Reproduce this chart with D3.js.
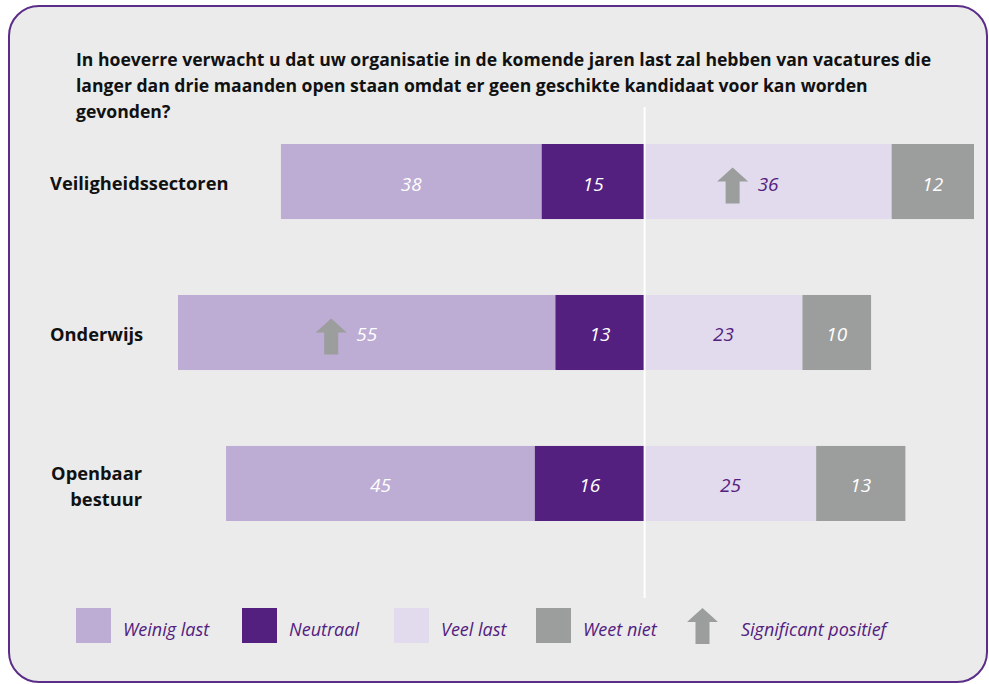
<!DOCTYPE html>
<html>
<head>
<meta charset="utf-8">
<script src="https://cdn.jsdelivr.net/npm/d3@7"></script>
<style>
  body { margin: 0; background: #fff; }
  svg text { font-family: "Open Sans", sans-serif; }
</style>
</head>
<body>
<svg id="chart" width="989" height="684"></svg>
<script>
// data (percentages)
var categories = ["Veiligheidssectoren", "Onderwijs", "Openbaar bestuur"];
var weinigLast = [38, 55, 45];
var neutraal = [15, 13, 16];
var veelLast = [36, 23, 25];
var weetNiet = [12, 10, 13];
// which segment carries the "significant positief" arrow, per category
var significant = ["Veel last", "Weinig last", null];
var legendLabels = ["Weinig last", "Neutraal", "Veel last", "Weet niet", "Significant positief"];
var titleLines = [
  "In hoeverre verwacht u dat uw organisatie in de komende jaren last zal hebben van vacatures die",
  "langer dan drie maanden open staan omdat er geen geschikte kandidaat voor kan worden",
  "gevonden?"
];

var purple = "#53207f";
var colors = {
  "Weinig last": "#bdacd4",
  "Neutraal": "#53207f",
  "Veel last": "#e2daed",
  "Weet niet": "#9c9e9d"
};
var textColors = {
  "Weinig last": "#ffffff",
  "Neutraal": "#ffffff",
  "Veel last": purple,
  "Weet niet": "#ffffff"
};

var svg = d3.select("#chart");

// frame
svg.append("rect")
  .attr("x", 9).attr("y", 6)
  .attr("width", 978).attr("height", 676)
  .attr("rx", 30).attr("ry", 30)
  .attr("fill", "#ebebeb")
  .attr("stroke", "#5b2c88")
  .attr("stroke-width", 2);

// title
svg.append("text")
  .attr("x", 76).attr("y", 66)
  .attr("font-size", 17.6).attr("font-weight", "bold").attr("fill", "#111")
  .selectAll("tspan")
  .data(titleLines)
  .enter().append("tspan")
  .attr("x", 76)
  .attr("dy", function(d, i) { return i == 0 ? 0 : 26; })
  .text(function(d) { return d; });

// build segments
var rows = categories.map(function(c, i) {
  var n = neutraal[i], w = weinigLast[i], v = veelLast[i], wn = weetNiet[i];
  return {
    cat: c,
    segs: [
      { key: "Weinig last", x0: -(n + w), x1: -n, val: w },
      { key: "Neutraal", x0: -n, x1: 0, val: n },
      { key: "Veel last", x0: 0, x1: v, val: v },
      { key: "Weet niet", x0: v, x1: v + wn, val: wn }
    ],
    sig: significant[i]
  };
});

var x = d3.scaleLinear()
  .domain([-68, 48])
  .range([178, 974]);

var y = d3.scaleBand()
  .domain(categories)
  .range([144, 521])
  .paddingInner(0.503)
  .paddingOuter(0);

function arrowPath(ax, ay) {
  // ax = left edge, ay = top; 31 wide, 36 high
  return "M" + (ax + 15.5) + "," + ay +
    "L" + (ax + 31) + "," + (ay + 14) +
    "L" + (ax + 22.5) + "," + (ay + 14) +
    "L" + (ax + 22.5) + "," + (ay + 36) +
    "L" + (ax + 8.5) + "," + (ay + 36) +
    "L" + (ax + 8.5) + "," + (ay + 14) +
    "L" + ax + "," + (ay + 14) + "Z";
}

var rowG = svg.append("g")
  .selectAll("g")
  .data(rows)
  .enter().append("g")
  .attr("transform", function(d) { return "translate(0," + y(d.cat) + ")"; });

rowG.selectAll("rect")
  .data(function(d) { return d.segs; })
  .enter().append("rect")
  .attr("x", function(d) { return x(d.x0); })
  .attr("width", function(d) { return x(d.x1) - x(d.x0); })
  .attr("height", y.bandwidth())
  .attr("fill", function(d) { return colors[d.key]; });

rowG.selectAll("text.val")
  .data(function(d) { return d.segs; })
  .enter().append("text")
  .attr("class", "val")
  .attr("x", function(d) { return (x(d.x0) + x(d.x1)) / 2; })
  .attr("y", y.bandwidth() / 2 + 9)
  .attr("text-anchor", "middle")
  .attr("font-size", 19)
  .attr("font-style", "italic")
  .attr("fill", function(d) { return textColors[d.key]; })
  .text(function(d) { return d.val; });

// significance arrows
rowG.each(function(d) {
  if (!d.sig) return;
  var s = d.segs.filter(function(e) { return e.key == d.sig; })[0];
  var cx = (x(s.x0) + x(s.x1)) / 2;
  d3.select(this).append("path")
    .attr("d", arrowPath(cx - 51, y.bandwidth() / 2 - 14))
    .attr("fill", "#9c9e9d");
});

// category labels: single words sit left, the two-line one is right-aligned
var labelG = svg.append("g")
  .selectAll("text")
  .data(categories)
  .enter().append("text")
  .attr("font-size", 18.3)
  .attr("font-weight", "bold")
  .attr("fill", "#111");

labelG.each(function(d) {
  var t = d3.select(this);
  var words = d.split(" ");
  var cy = y(d) + y.bandwidth() / 2;
  if (words.length == 1) {
    t.attr("x", 50).attr("y", cy + 8).text(d);
  } else {
    t.attr("text-anchor", "end");
    words.forEach(function(w, i) {
      t.append("tspan")
        .attr("x", 142)
        .attr("y", cy - 3 + i * 26)
        .text(w);
    });
  }
});

// centre line
svg.append("line")
  .attr("x1", x(0)).attr("x2", x(0))
  .attr("y1", 107).attr("y2", 598)
  .attr("stroke", "#fff")
  .attr("stroke-width", 2);

// legend
var legendX = [76, 242, 394, 536, 687];
var legend = svg.append("g")
  .selectAll("g")
  .data(legendLabels)
  .enter().append("g")
  .attr("transform", function(d, i) { return "translate(" + legendX[i] + ",608)"; });

legend.each(function(d) {
  var g = d3.select(this);
  if (colors[d]) {
    g.append("rect").attr("width", 35).attr("height", 35).attr("fill", colors[d]);
    g.append("text").attr("x", 47).attr("y", 28).text(d);
  } else {
    g.append("path").attr("d", arrowPath(0, 0)).attr("fill", "#9c9e9d");
    g.append("text").attr("x", 54).attr("y", 28).text(d);
  }
});

legend.selectAll("text")
  .attr("font-size", 18)
  .attr("font-style", "italic")
  .attr("fill", purple);
</script>
</body>
</html>
